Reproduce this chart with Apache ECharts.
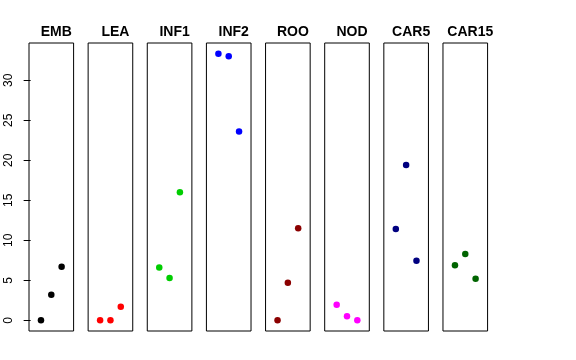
<!DOCTYPE html>
<html><head><meta charset="utf-8">
<script src="https://cdn.jsdelivr.net/npm/echarts@6/dist/echarts.min.js"></script>
<style>html,body{margin:0;padding:0;background:#fff}#c{width:576px;height:360px}</style>
</head><body><div id="c"></div>
<script>
var panels = ["EMB","LEA","INF1","INF2","ROO","NOD","CAR5","CAR15"];
var colors = ["#000000","#FF0000","#00CD00","#0000FF","#8B0000","#FF00FF","#000080","#006400"];
var xPos = [1,2,3];
var vEMB = [0, 3.2, 6.7];
var vLEA = [0, 0, 1.7];
var vINF1 = [6.6, 5.3, 16.0];
var vINF2 = [33.33, 33.0, 23.6];
var vROO = [0, 4.7, 11.5];
var vNOD = [1.95, 0.5, 0];
var vCAR5 = [11.4, 19.4, 7.45];
var vCAR15 = [6.9, 8.3, 5.2];
var yTicks = [0,5,10,15,20,25,30];
var values = [vEMB,vLEA,vINF1,vINF2,vROO,vNOD,vCAR5,vCAR15];

var yMin = -1.3332, yMax = 34.6632;
var grids=[], xAxes=[], yAxes=[], series=[], titles=[];
var left0 = 29, step = 59.14, w = 44.6;
for (var i=0;i<panels.length;i++){
  var L = left0 + i*step;
  grids.push({left:L, width:w, top:43, bottom:29, show:true, borderColor:'#000', borderWidth:1, backgroundColor:'transparent'});
  xAxes.push({type:'value', gridIndex:i, min:-0.16, max:4.16, show:false});
  yAxes.push({type:'value', gridIndex:i, min:yMin, max:yMax, show:i===0,
    axisLine:{show:false}, splitLine:{show:false},
    axisTick:{show:true, length:7, customValues:yTicks, lineStyle:{color:'#000'}},
    axisLabel:{show:true, customValues:yTicks, rotate:90, margin:14, color:'#000', fontSize:12, fontFamily:'Liberation Sans, Arial, sans-serif'}
  });
  series.push({type:'scatter', xAxisIndex:i, yAxisIndex:i, symbol:'circle', symbolSize:6.5,
    itemStyle:{color:colors[i], opacity:1}, silent:true,
    data: xPos.map(function(x,j){return [x, values[i][j]];})});
  titles.push({text:panels[i], left:L+w/2, top:20, textAlign:'center',
    textStyle:{fontSize:14, fontWeight:'bold', color:'#000', fontFamily:'Liberation Sans, Arial, sans-serif'}});
}
var chart = echarts.init(document.getElementById('c'), null, {renderer:'canvas'});
chart.setOption({animation:false, backgroundColor:'#fff', title:titles, grid:grids, xAxis:xAxes, yAxis:yAxes, series:series});
</script></body></html>
